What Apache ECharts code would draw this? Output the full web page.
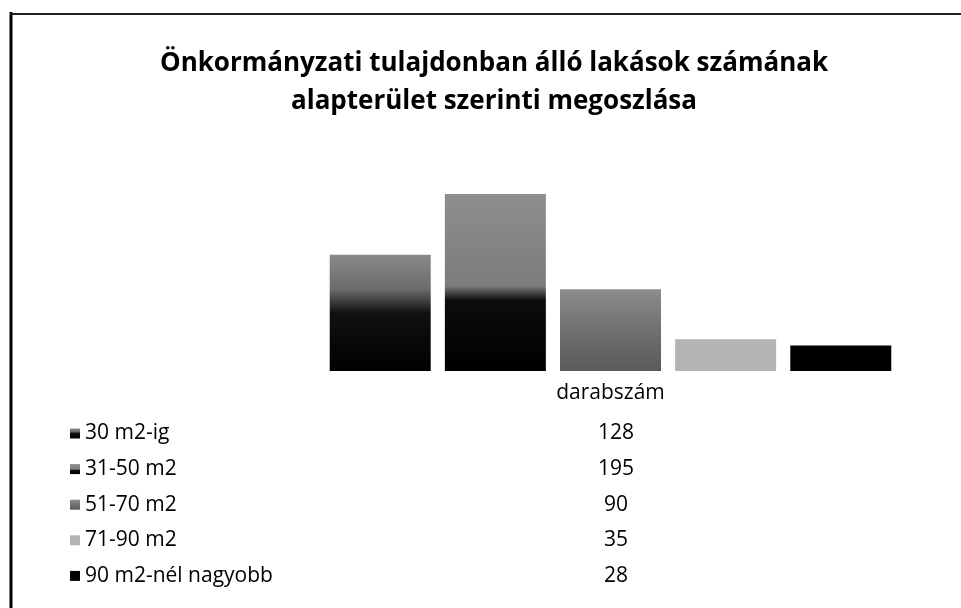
<!DOCTYPE html>
<html>
<head>
<meta charset="utf-8">
<script src="https://cdn.jsdelivr.net/npm/echarts@6/dist/echarts.min.js"></script>
<style>
html,body{margin:0;padding:0;background:#fff;}
#chart{width:961px;height:608px;}
</style>
</head>
<body>
<div id="chart"></div>
<script>
var titleText = 'Önkormányzati tulajdonban álló lakások számának\nalapterület szerinti megoszlása';
var categories = ['darabszám'];
var seriesNames = ['30 m2-ig', '31-50 m2', '51-70 m2', '71-90 m2', '90 m2-nél nagyobb'];
var seriesValues = [128, 195, 90, 35, 28];

function grad(stops) {
  return new echarts.graphic.LinearGradient(0, 0, 0, 1, stops.map(function (s) { return { offset: s[0], color: s[1] }; }));
}
var seriesColors = [
  grad([[0, '#8a8a8a'], [0.3, '#6a6a6a'], [0.5, '#111'], [1, '#000']]),
  grad([[0, '#8e8e8e'], [0.52, '#7c7c7c'], [0.6, '#0c0c0c'], [1, '#000']]),
  grad([[0, '#8c8c8c'], [0.5, '#707070'], [1, '#5a5a5a']]),
  '#b4b4b4',
  '#000000'
];

var chart = echarts.init(document.getElementById('chart'));
var valueMap = {};
seriesNames.forEach(function (n, i) { valueMap[n] = seriesValues[i]; });

var option = {
  backgroundColor: '#fff',
  animation: false,
  title: {
    text: titleText,
    left: 489,
    top: 40,
    textAlign: 'center',
    textStyle: {
      fontFamily: 'Open Sans',
      fontWeight: 'bold',
      fontSize: 26,
      lineHeight: 38,
      color: '#000'
    }
  },
  grid: { left: 318, right: 58, top: 144, bottom: 237, containLabel: false },
  xAxis: {
    type: 'category',
    data: categories,
    axisLine: { show: false },
    axisTick: { show: false },
    axisLabel: { margin: 12, fontFamily: 'Open Sans', fontSize: 21, color: '#000' }
  },
  yAxis: {
    type: 'value', min: 0, max: 250, interval: 50, show: false,
    splitLine: { show: false }
  },
  legend: {
    orient: 'vertical',
    left: 65,
    top: 418,
    itemWidth: 10,
    itemHeight: 10,
    itemGap: 14.6,
    icon: 'rect',
    data: seriesNames,
    formatter: function (name) {
      return '{n|' + name + '}{v|' + valueMap[name] + '}';
    },
    textStyle: {
      rich: {
        n: { width: 500, fontFamily: 'Open Sans', fontSize: 21, lineHeight: 24, color: '#000' },
        v: { width: 62, align: 'center', fontFamily: 'Open Sans', fontSize: 21, lineHeight: 24, color: '#000' }
      }
    }
  },
  graphic: [
    { type: 'line', shape: { x1: 11, y1: 12, x2: 11, y2: 608 }, style: { stroke: '#000', lineWidth: 3 } },
    { type: 'line', shape: { x1: 10, y1: 14, x2: 961, y2: 14 }, style: { stroke: '#222', lineWidth: 2 } }
  ],
  series: seriesNames.map(function (n, i) {
    return {
      name: n,
      type: 'bar',
      data: [seriesValues[i]],
      barWidth: 101,
      barGap: '14%',
      itemStyle: { color: seriesColors[i] }
    };
  })
};
chart.setOption(option);
</script>
</body>
</html>
